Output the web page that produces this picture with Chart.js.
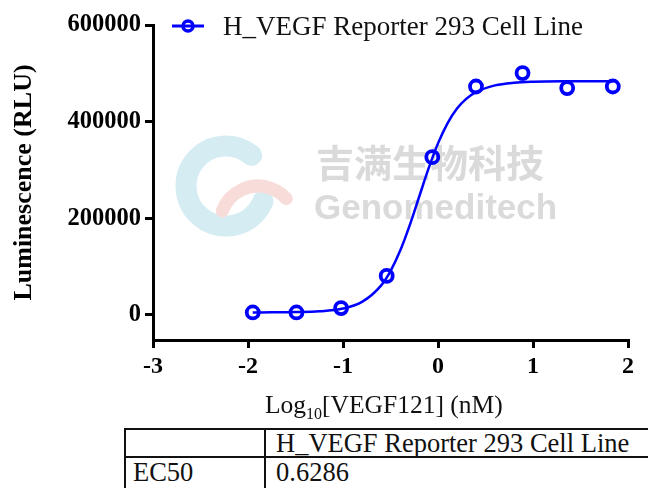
<!DOCTYPE html>
<html>
<head>
<meta charset="utf-8">
<script src="https://cdn.jsdelivr.net/npm/chart.js@4.4.1/dist/chart.umd.min.js"></script>
<style>
  body { margin:0; background:#fff; width:648px; height:488px; overflow:hidden; position:relative; font-family:"Liberation Serif", serif; }
  #wrap { position:absolute; left:0; top:0; width:648px; height:392px; }
  .xtitle { position:absolute; left:265px; top:392px; font-size:25.5px; line-height:25px; color:#111; white-space:nowrap; }
  .xtitle sub { font-size:16px; line-height:0; vertical-align:-6px; }
  table { position:absolute; left:124px; top:428px; border-collapse:collapse; table-layout:fixed; width:560px; font-size:26.5px; color:#111; }
  td { border:2px solid #111; padding:0; height:26px; line-height:24px; white-space:nowrap; vertical-align:middle; }
  td.c1 { padding-left:7px; }
  td.c2 { padding-left:10px; }
  tr.r2 td { height:34px; vertical-align:top; padding-top:2px; }
</style>
</head>
<body>
<div id="wrap"><canvas id="curveChart" width="648" height="392"></canvas></div>
<div class="xtitle">Log<sub>10</sub>[VEGF121] (nM)</div>
<table>
  <colgroup><col style="width:140px"><col style="width:420px"></colgroup>
  <tr><td class="c1"></td><td class="c2" id="hdr"></td></tr>
  <tr class="r2"><td class="c1">EC50</td><td class="c2" id="ec50"></td></tr>
</table>
<script>
const seriesName = 'H_VEGF Reporter 293 Cell Line';
const ec50Value = '0.6286';
const xTicks = [-3, -2, -1, 0, 1, 2];
const yTicks = [0, 200000, 400000, 600000];

// measured points (log10 dose, RLU)
const logDose = [-1.95, -1.49, -1.02, -0.54, -0.06, 0.40, 0.89, 1.36, 1.84];
const rlu = [5000, 5000, 14000, 80700, 326500, 472700, 500400, 469400, 472700];

// fitted curve
const fitX = [-1.95, -1.75, -1.5, -1.25, -1, -0.8, -0.6, -0.5, -0.4, -0.3, -0.2, -0.1, 0, 0.1, 0.2, 0.3, 0.4, 0.6, 0.8, 1.0, 1.4, 1.84];
const fitY = [5100, 5200, 5700, 7300, 13200, 26800, 60500, 90600, 132000, 184300, 243500, 302600, 355000, 396500, 427000, 447500, 461000, 475000, 480500, 482500, 483500, 483800];

document.getElementById('hdr').textContent = seriesName;
document.getElementById('ec50').textContent = ec50Value;

const blue = '#0000ff';
const serif = '"Liberation Serif", "Times New Roman", serif';

const watermark = {
  id: 'watermark',
  beforeDatasetsDraw(chart) {
    const c = chart.ctx;
    c.save();
    c.lineCap = 'round';
    c.strokeStyle = '#d6ecf3';
    c.lineWidth = 21;
    c.beginPath();
    c.arc(226, 186, 40, -50 * Math.PI / 180, 22 * Math.PI / 180, true);
    c.stroke();
    c.strokeStyle = '#f7dcda';
    c.lineWidth = 13;
    c.beginPath();
    c.arc(258, 224, 38, 200 * Math.PI / 180, 318 * Math.PI / 180);
    c.stroke();
    c.fillStyle = '#dadada';
    c.font = 'bold 38px "Noto Sans CJK SC"';
    c.textBaseline = 'alphabetic';
    c.fillText('吉满生物科技', 316, 177);
    c.font = 'bold 35px "Liberation Sans"';
    c.fillText('Genomeditech', 314, 219);
    c.restore();
  }
};

const legendRow = {
  id: 'legendRow',
  afterDraw(chart) {
    const c = chart.ctx;
    const ds = chart.data.datasets[0];
    c.save();
    c.strokeStyle = ds.borderColor;
    c.lineWidth = 3;
    c.beginPath();
    c.moveTo(172, 26);
    c.lineTo(204, 26);
    c.stroke();
    c.beginPath();
    c.arc(188, 26, 5, 0, 2 * Math.PI);
    c.lineWidth = 3.5;
    c.stroke();
    c.fillStyle = '#111';
    c.font = '27px ' + serif;
    c.textBaseline = 'alphabetic';
    c.fillText(ds.label, 223, 35);
    c.restore();
  }
};

const ctx = document.getElementById('curveChart');

new Chart(ctx, {
  type: 'scatter',
  data: {
    datasets: [{
      label: seriesName,
      data: logDose.map((x, i) => ({ x: x, y: rlu[i] })),
      showLine: false,
      pointStyle: 'circle',
      pointRadius: 6,
      pointBorderWidth: 3.8,
      borderColor: blue,
      backgroundColor: 'rgba(0,0,0,0)',
      order: 0
    }, {
      label: 'fit',
      data: fitX.map((x, i) => ({ x: x, y: fitY[i] })),
      showLine: true,
      pointRadius: 0,
      borderColor: blue,
      borderWidth: 2.5,
      cubicInterpolationMode: 'monotone',
      order: 1
    }]
  },
  options: {
    responsive: false,
    animation: false,
    layout: { padding: { top: 25, right: 20, left: 0, bottom: 0 } },
    plugins: {
      legend: { display: false },
      tooltip: { enabled: false }
    },
    scales: {
      x: {
        type: 'linear',
        min: -3,
        max: 2,
        afterBuildTicks: (s) => { s.ticks = xTicks.map(v => ({ value: v })); },
        afterFit: (s) => { s.height = 52; },
        border: { color: '#000', width: 3 },
        grid: { drawOnChartArea: false, color: '#000', lineWidth: 3, tickLength: 8 },
        ticks: { color: '#000', font: { family: serif, size: 24, weight: 'bold' }, padding: 4, maxRotation: 0 }
      },
      y: {
        min: -52000,
        max: 600000,
        afterBuildTicks: (s) => { s.ticks = yTicks.map(v => ({ value: v })); },
        afterFit: (s) => { s.width = 153; },
        border: { color: '#000', width: 3 },
        grid: { drawOnChartArea: false, color: '#000', lineWidth: 3, tickLength: 8 },
        ticks: { color: '#000', font: { family: serif, size: 24.5, weight: 'bold' }, padding: 4, callback: (v) => String(v) },
        title: {
          display: true,
          text: 'Luminescence (RLU)',
          color: '#000',
          font: { family: serif, size: 26, weight: 'bold' },
          padding: { top: 9, bottom: 0 }
        }
      }
    }
  },
  plugins: [watermark, legendRow]
});
</script>
</body>
</html>
